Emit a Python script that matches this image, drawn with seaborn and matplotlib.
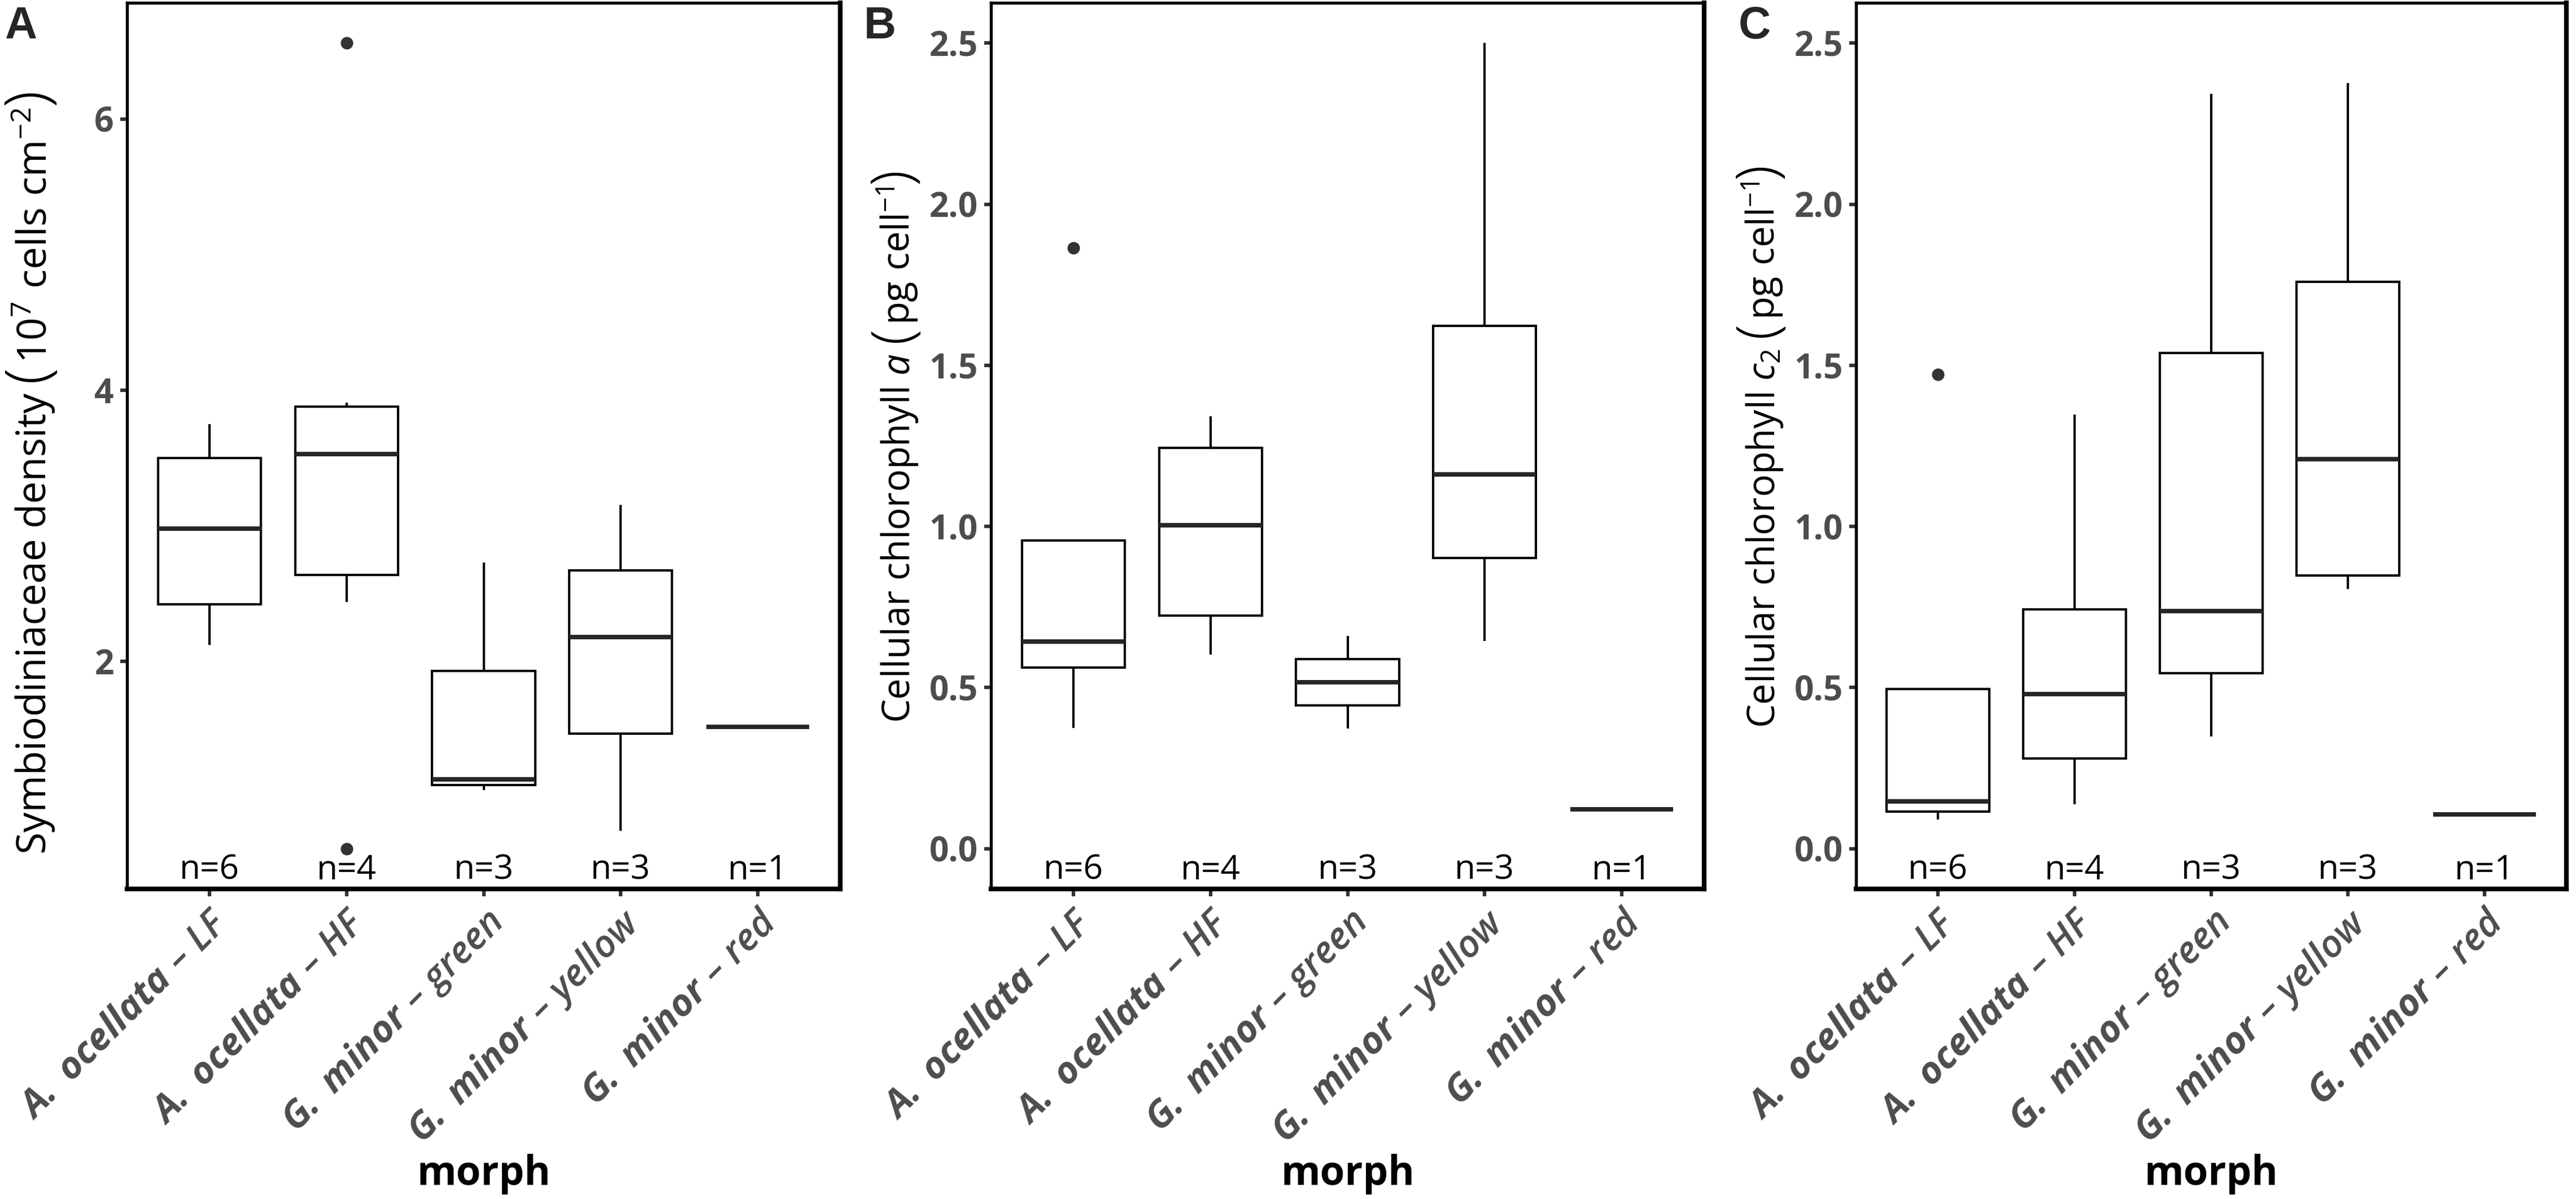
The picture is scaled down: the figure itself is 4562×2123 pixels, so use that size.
import numpy as np
import pandas as pd
import matplotlib
matplotlib.use("Agg")
import matplotlib.pyplot as plt
import seaborn as sns

# ---------------------------------------------------------------
# data
# ---------------------------------------------------------------
morphs = ["LF", "HF", "green", "yellow", "red"]
tick_labels = [
    r"$\mathbfit{A.\ ocellata}\ \mathsf{–\ LF}$",
    r"$\mathbfit{A.\ ocellata}\ \mathsf{–\ HF}$",
    r"$\mathbfit{G.\ minor}\ \mathsf{–\ green}$",
    r"$\mathbfit{G.\ minor}\ \mathsf{–\ yellow}$",
    r"$\mathbfit{G.\ minor}\ \mathsf{–\ red}$",
]
n_counts = [6, 4, 3, 3, 1]

density = [
    [2.12, 2.42, 2.98, 3.50, 3.75],
    [0.62, 2.44, 2.64, 3.53, 3.53, 3.53, 3.88, 3.91, 6.56],
    [1.05, 1.09, 1.13, 1.93, 2.73],
    [0.75, 1.47, 2.18, 2.67, 3.155],
    [1.52],
]
chl_a = [
    [0.374, 0.562, 0.562, 0.642, 0.642, 0.642, 0.957, 0.957, 1.865],
    [0.603, 0.723, 1.004, 1.244, 1.342],
    [0.372, 0.444, 0.517, 0.589, 0.660],
    [0.644, 0.902, 1.161, 1.623, 2.500],
    [0.122],
]
chl_c2 = [
    [0.090, 0.115, 0.115, 0.147, 0.147, 0.147, 0.495, 0.495, 1.471],
    [0.138, 0.280, 0.480, 0.742, 1.348],
    [0.349, 0.545, 0.738, 1.539, 2.342],
    [0.806, 0.848, 1.208, 1.760, 2.376],
    [0.106],
]

# y titles split into: text before bracket, inside of bracket
ylabel_head = [
    "Symbiodiniaceae density",
    r"Cellular chlorophyll $\mathit{a}$",
    r"Cellular chlorophyll $\mathit{c}_{2}$",
]
ylabel_inner = [
    r"$10^{7}\ \mathrm{cells\ cm^{-2}}$",
    r"$\mathrm{pg\ cell^{-1}}$",
    r"$\mathrm{pg\ cell^{-1}}$",
]
panel_letters = ["A", "B", "C"]
yticks = [[2, 4, 6], [0, 0.5, 1.0, 1.5, 2.0, 2.5], [0, 0.5, 1.0, 1.5, 2.0, 2.5]]
ytick_fmt = ["{:.0f}", "{:.1f}", "{:.1f}"]
ylims = [(0.323, 6.857), (-0.125, 2.625), (-0.125, 2.625)]


def to_long(groups):
    rows = []
    for m, vals in zip(morphs, groups):
        for v in vals:
            rows.append({"morph": m, "value": v})
    return pd.DataFrame(rows)


# ---------------------------------------------------------------
# style
# ---------------------------------------------------------------
sns.set_style("white")
plt.rcParams["font.family"] = ["Open Sans", "DejaVu Sans"]
plt.rcParams["mathtext.fontset"] = "custom"
plt.rcParams["mathtext.rm"] = "Open Sans"
plt.rcParams["mathtext.it"] = "Open Sans:italic"
plt.rcParams["mathtext.bf"] = "Open Sans:bold"
plt.rcParams["mathtext.sf"] = "Open Sans:italic:semibold"   # used for tick-label tails
try:
    plt.rcParams["mathtext.bfit"] = "Open Sans:italic:bold"
except KeyError:
    pass

W, H = 4562, 2123
fig = plt.figure(figsize=(W / 300, H / 300), dpi=300)
renderer = fig.canvas.get_renderer()

# axes boxes in pixels (left, right), shared top/bottom
ax_px = [(225, 1488), (1755, 3018), (3287, 4545)]
top_px, bot_px = 5, 1574
letter_x = [8, 1530, 3079]
ylabel_fs = [17, 16, 16]
ylabel_shift = [45, 0, 0]   # px downward from panel centre


def vertical_title(x_px, yc_px, head, inner, fs):
    # rotated title built piece by piece so the brackets can be tall
    pieces = [(head, fs), ("(", fs * 1.5), (inner, fs), (")", fs * 1.5)]
    texts, lengths = [], []
    for s, size in pieces:
        t = fig.text(x_px / W, 0, s, rotation=90, rotation_mode="anchor",
                     ha="left", va="baseline", fontsize=size, color="black")
        if s in "()":
            t.set_fontweight("light")
        lengths.append(t.get_window_extent(renderer).height)
        texts.append(t)
    gaps = [20, 4, 4, 0]
    total = sum(lengths) + sum(gaps)
    y = (H - yc_px) - total / 2
    for t, L, g in zip(texts, lengths, gaps):
        t.set_y(y / H)
        y += L + g


datasets = [density, chl_a, chl_c2]

for i, (groups, (l, r)) in enumerate(zip(datasets, ax_px)):
    ax = fig.add_axes([l / W, 1 - bot_px / H, (r - l) / W, (bot_px - top_px) / H])
    df = to_long(groups)
    sns.boxplot(data=df, x="morph", y="value", order=morphs, ax=ax,
                width=0.75, color="white", linecolor="black", linewidth=1.0,
                showcaps=False,
                medianprops=dict(color="#262626", linewidth=1.9),
                flierprops=dict(marker="o", markersize=4.3,
                                markerfacecolor="#333333",
                                markeredgecolor="#333333"))

    ax.set_xlim(-0.6, 4.6)
    ax.set_ylim(*ylims[i])
    ax.set_yticks(yticks[i])
    ax.set_yticklabels([ytick_fmt[i].format(t) for t in yticks[i]],
                       fontsize=14.5, fontweight="bold", color="#4D4D4D")
    ax.set_xticks(range(len(morphs)))
    ax.set_xticklabels(tick_labels, fontsize=16, color="#4D4D4D",
                       rotation=45, ha="right", va="top",
                       rotation_mode="anchor")
    ax.tick_params(axis="both", which="major", length=3, width=1.5,
                   color="#333333", bottom=True, left=True)
    ax.tick_params(axis="y", pad=2.6)
    ax.tick_params(axis="x", pad=3)
    ax.set_xlabel("")
    ax.set_ylabel("")

    for side in ["left", "top"]:
        ax.spines[side].set_linewidth(1.3)
        ax.spines[side].set_color("black")
    for side in ["right", "bottom"]:
        ax.spines[side].set_linewidth(2.0)
        ax.spines[side].set_color("black")

    # n labels along the bottom of the panel
    for k, n in enumerate(n_counts):
        ax.text(k, 0.011, f"n={n}", transform=ax.get_xaxis_transform(),
                ha="center", va="baseline", fontsize=14.5, color="black")

    # axis titles
    cx = (l + r) / 2 / W
    fig.text(cx, 1 - 2098 / H, "morph", ha="center", va="baseline",
             fontsize=17, fontweight="bold", color="black")
    vertical_title(l - 144, (top_px + bot_px) / 2 + ylabel_shift[i],
                   ylabel_head[i], ylabel_inner[i], ylabel_fs[i])
    fig.text(letter_x[i] / W, 1 - 10 / H, panel_letters[i], ha="left",
             va="top", fontsize=19, fontweight="bold",
             family=["Liberation Sans", "DejaVu Sans"])

fig.savefig("out.png", dpi=300, facecolor="white")
